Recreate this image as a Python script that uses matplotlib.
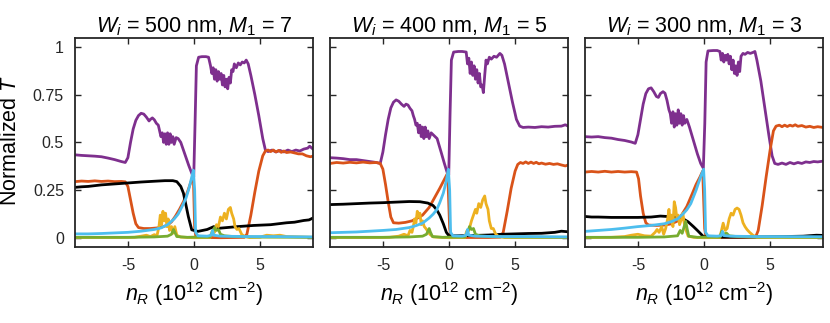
import numpy as np
import matplotlib
matplotlib.use("Agg")
import matplotlib.pyplot as plt

plt.rcParams['font.family'] = ['Liberation Sans', 'DejaVu Sans']
plt.rcParams['mathtext.fontset'] = 'custom'
plt.rcParams['mathtext.rm'] = 'Liberation Sans'
plt.rcParams['mathtext.it'] = 'Liberation Sans:italic'
plt.rcParams['mathtext.bf'] = 'Liberation Sans:bold'
plt.rcParams['axes.unicode_minus'] = False

# panel settings: (W_i in nm, M_1)
widths = [500, 400, 300]
modes = [7, 5, 3]

# ---- W_i = 500 nm ----
purple_500 = [(-9.0, 0.435), (-8.5, 0.432), (-8.0, 0.43), (-7.5, 0.428), (-7.0, 0.425), (-6.5, 0.418),
              (-6.0, 0.41), (-5.5, 0.40), (-5.2, 0.395), (-5.0, 0.42), (-4.8, 0.50), (-4.6, 0.57),
              (-4.4, 0.615), (-4.2, 0.64), (-4.0, 0.652), (-3.8, 0.648), (-3.6, 0.632), (-3.4, 0.612),
              (-3.3, 0.62), (-3.15, 0.628), (-3.0, 0.618), (-2.85, 0.60), (-2.7, 0.59), (-2.6, 0.56),
              (-2.5, 0.53), (-2.4, 0.55), (-2.3, 0.50), (-2.2, 0.545), (-2.1, 0.49), (-2.0, 0.55),
              (-1.9, 0.49), (-1.8, 0.545), (-1.7, 0.50), (-1.6, 0.53), (-1.5, 0.49), (-1.35, 0.525),
              (-1.2, 0.52), (-1.0, 0.50), (-0.7, 0.44), (-0.4, 0.38), (-0.15, 0.335), (-0.02, 0.32),
              (0.08, 0.6), (0.18, 0.9), (0.35, 0.945), (0.6, 0.948), (0.9, 0.948), (1.1, 0.945),
              (1.25, 0.90), (1.35, 0.86), (1.45, 0.89), (1.55, 0.83), (1.65, 0.88), (1.75, 0.82),
              (1.85, 0.87), (1.95, 0.83), (2.05, 0.86), (2.15, 0.80), (2.25, 0.85), (2.35, 0.79),
              (2.45, 0.83), (2.55, 0.78), (2.65, 0.84), (2.75, 0.81), (2.85, 0.88), (2.95, 0.87),
              (3.05, 0.91), (3.2, 0.89), (3.35, 0.915), (3.5, 0.905), (3.65, 0.92), (3.8, 0.915),
              (3.95, 0.93), (4.1, 0.91), (4.3, 0.85), (4.6, 0.75), (4.9, 0.64), (5.2, 0.52),
              (5.4, 0.46), (5.6, 0.452), (5.9, 0.46), (6.2, 0.45), (6.5, 0.458), (6.8, 0.45),
              (7.1, 0.46), (7.4, 0.452), (7.7, 0.46), (8.0, 0.455), (8.3, 0.465), (8.6, 0.47),
              (8.75, 0.48), (9.0, 0.465)]
orange_500 = [(-9.0, 0.295), (-8.5, 0.298), (-8.0, 0.296), (-7.5, 0.299), (-7.0, 0.296), (-6.5, 0.298),
              (-6.0, 0.295), (-5.5, 0.296), (-5.2, 0.294), (-5.0, 0.27), (-4.8, 0.2), (-4.6, 0.13),
              (-4.4, 0.075), (-4.2, 0.055), (-3.8, 0.05), (-3.3, 0.05), (-2.8, 0.053), (-2.4, 0.058),
              (-2.0, 0.068), (-1.7, 0.085), (-1.4, 0.115), (-1.1, 0.15), (-0.8, 0.19), (-0.5, 0.24),
              (-0.25, 0.29), (-0.05, 0.33), (0.05, 0.05), (0.15, 0.003), (1.0, 0.003), (2.0, 0.002),
              (3.0, 0.003), (3.8, 0.004), (4.0, 0.02), (4.3, 0.12), (4.6, 0.24), (4.9, 0.35),
              (5.2, 0.43), (5.4, 0.455), (5.6, 0.46), (5.8, 0.452), (6.0, 0.46), (6.2, 0.45),
              (6.4, 0.458), (6.6, 0.448), (6.8, 0.455), (7.0, 0.447), (7.3, 0.45), (7.6, 0.445),
              (7.9, 0.44), (8.2, 0.44), (8.5, 0.43), (8.8, 0.425), (9.0, 0.428)]
black_500 = [(-9.0, 0.265), (-8.5, 0.268), (-8.0, 0.27), (-7.0, 0.278), (-6.0, 0.283), (-5.0, 0.288),
             (-4.0, 0.293), (-3.0, 0.297), (-2.2, 0.30), (-1.6, 0.30), (-1.3, 0.295), (-1.0, 0.27),
             (-0.8, 0.235), (-0.6, 0.17), (-0.43, 0.113), (-0.17, 0.043), (0.3, 0.035), (1.0, 0.045),
             (1.5, 0.06), (1.7, 0.05), (2.0, 0.052), (3.3, 0.06), (4.5, 0.066), (5.8, 0.07),
             (7.0, 0.08), (7.6, 0.083), (8.3, 0.092), (8.7, 0.095), (9.0, 0.105)]
yellow_500 = [(-9.0, 0.003), (-6.0, 0.003), (-4.5, 0.004), (-4.0, 0.01), (-3.6, 0.015), (-3.3, 0.008),
              (-3.0, 0.018), (-2.8, 0.012), (-2.65, 0.06), (-2.55, 0.12), (-2.45, 0.07), (-2.35, 0.14),
              (-2.25, 0.09), (-2.15, 0.13), (-2.05, 0.06), (-1.95, 0.1), (-1.85, 0.04), (-1.7, 0.06),
              (-1.6, 0.025), (-1.45, 0.06), (-1.3, 0.015), (-1.0, 0.005), (0.0, 0.002), (1.2, 0.003),
              (1.4, 0.04), (1.55, 0.03), (1.7, 0.07), (1.85, 0.06), (2.0, 0.11), (2.15, 0.09),
              (2.3, 0.13), (2.45, 0.1), (2.6, 0.15), (2.75, 0.16), (2.85, 0.13), (3.0, 0.1),
              (3.1, 0.06), (3.25, 0.045), (3.4, 0.05), (3.6, 0.02), (3.8, 0.01), (4.2, 0.003),
              (5.0, 0.005), (5.5, 0.015), (6.0, 0.012), (6.5, 0.015), (7.0, 0.008), (8.0, 0.006),
              (9.0, 0.004)]
green_500 = [(-9.0, 0.004), (-5.0, 0.004), (-3.0, 0.006), (-2.0, 0.01), (-1.7, 0.02), (-1.55, 0.045),
             (-1.45, 0.03), (-1.3, 0.008), (-0.5, 0.004), (0.0, 0.005), (1.2, 0.005), (1.4, 0.03),
             (1.55, 0.055), (1.7, 0.04), (1.85, 0.045), (2.0, 0.02), (2.3, 0.012), (3.0, 0.008),
             (5.0, 0.005), (9.0, 0.004)]
blue_500 = [(-9.0, 0.022), (-8.0, 0.022), (-7.0, 0.024), (-6.0, 0.027), (-5.0, 0.03), (-4.0, 0.036),
            (-3.0, 0.045), (-2.5, 0.053), (-2.0, 0.07), (-1.5, 0.1), (-1.2, 0.125), (-0.9, 0.165),
            (-0.6, 0.21), (-0.4, 0.255), (-0.2, 0.31), (-0.05, 0.355), (0.05, 0.25), (0.12, 0.03),
            (0.3, 0.012), (1.0, 0.01), (1.3, 0.015), (1.4, 0.04), (1.5, 0.015), (2.0, 0.01),
            (4.0, 0.008), (6.0, 0.008), (9.0, 0.006)]

# ---- W_i = 400 nm ----
purple_400 = [(-9.0, 0.42), (-8.5, 0.418), (-8.0, 0.415), (-7.5, 0.41), (-7.0, 0.41), (-6.5, 0.405),
              (-6.0, 0.40), (-5.5, 0.395), (-5.2, 0.39), (-5.0, 0.45), (-4.8, 0.54), (-4.6, 0.62),
              (-4.4, 0.68), (-4.2, 0.71), (-4.0, 0.722), (-3.8, 0.715), (-3.6, 0.70), (-3.4, 0.688),
              (-3.25, 0.70), (-3.1, 0.695), (-2.95, 0.678), (-2.8, 0.665), (-2.7, 0.64), (-2.6, 0.62),
              (-2.5, 0.59), (-2.4, 0.60), (-2.3, 0.55), (-2.2, 0.59), (-2.1, 0.53), (-2.0, 0.58),
              (-1.9, 0.52), (-1.8, 0.58), (-1.7, 0.53), (-1.6, 0.56), (-1.5, 0.52), (-1.35, 0.55),
              (-1.2, 0.54), (-0.9, 0.52), (-0.6, 0.45), (-0.35, 0.39), (-0.15, 0.345), (-0.02, 0.33),
              (0.08, 0.65), (0.18, 0.93), (0.35, 0.972), (0.7, 0.975), (1.0, 0.975), (1.3, 0.972),
              (1.4, 0.91), (1.5, 0.94), (1.6, 0.86), (1.7, 0.92), (1.8, 0.85), (1.9, 0.90),
              (2.0, 0.83), (2.1, 0.88), (2.2, 0.81), (2.3, 0.86), (2.4, 0.79), (2.5, 0.80),
              (2.6, 0.76), (2.7, 0.85), (2.8, 0.93), (2.9, 0.91), (3.05, 0.945), (3.2, 0.935),
              (3.4, 0.95), (3.6, 0.945), (3.85, 0.965), (4.0, 0.955), (4.2, 0.91), (4.5, 0.81),
              (4.8, 0.71), (5.1, 0.62), (5.35, 0.585), (5.6, 0.578), (6.0, 0.58), (6.5, 0.578),
              (7.0, 0.582), (7.5, 0.58), (8.0, 0.584), (8.5, 0.585), (8.8, 0.592), (9.0, 0.585)]
orange_400 = [(-9.0, 0.39), (-8.5, 0.395), (-8.0, 0.392), (-7.5, 0.396), (-7.0, 0.393), (-6.5, 0.397),
              (-6.0, 0.393), (-5.5, 0.395), (-5.2, 0.39), (-5.0, 0.36), (-4.8, 0.28), (-4.6, 0.19),
              (-4.4, 0.11), (-4.2, 0.08), (-3.8, 0.078), (-3.3, 0.082), (-2.8, 0.09), (-2.4, 0.104),
              (-2.0, 0.12), (-1.5, 0.16), (-1.1, 0.21), (-0.7, 0.26), (-0.4, 0.30), (-0.1, 0.34),
              (0.05, 0.05), (0.15, 0.003), (1.0, 0.003), (2.0, 0.003), (3.0, 0.003), (3.9, 0.005),
              (4.1, 0.03), (4.4, 0.14), (4.7, 0.26), (5.0, 0.35), (5.2, 0.385), (5.4, 0.395),
              (5.6, 0.39), (5.8, 0.398), (6.0, 0.39), (6.2, 0.397), (6.4, 0.39), (6.6, 0.396),
              (6.8, 0.388), (7.0, 0.392), (7.3, 0.386), (7.6, 0.39), (7.9, 0.385), (8.2, 0.388),
              (8.5, 0.382), (8.8, 0.377), (9.0, 0.382)]
black_400 = [(-9.0, 0.175), (-8.0, 0.177), (-7.0, 0.18), (-6.0, 0.183), (-5.0, 0.185), (-4.0, 0.188),
             (-3.0, 0.191), (-2.2, 0.19), (-1.6, 0.183), (-1.2, 0.17), (-0.93, 0.148), (-0.7, 0.12),
             (-0.43, 0.075), (-0.2, 0.03), (0.0, 0.012), (0.5, 0.012), (2.0, 0.014), (3.0, 0.016),
             (4.0, 0.02), (5.0, 0.022), (6.0, 0.024), (7.0, 0.025), (8.0, 0.03), (8.5, 0.036),
             (9.0, 0.033)]
yellow_400 = [(-9.0, 0.003), (-6.0, 0.003), (-4.5, 0.004), (-3.8, 0.01), (-3.4, 0.02), (-3.1, 0.012),
              (-2.95, 0.04), (-2.8, 0.03), (-2.7, 0.06), (-2.6, 0.1), (-2.5, 0.08), (-2.4, 0.14),
              (-2.3, 0.11), (-2.2, 0.13), (-2.1, 0.07), (-2.0, 0.09), (-1.87, 0.06), (-1.75, 0.05),
              (-1.6, 0.035), (-1.45, 0.02), (-1.2, 0.006), (0.0, 0.002), (1.2, 0.003), (1.33, 0.035),
              (1.5, 0.04), (1.7, 0.09), (1.85, 0.12), (2.0, 0.15), (2.1, 0.13), (2.25, 0.18),
              (2.4, 0.16), (2.55, 0.20), (2.7, 0.22), (2.8, 0.18), (2.95, 0.15), (3.05, 0.09),
              (3.2, 0.05), (3.35, 0.05), (3.5, 0.025), (3.7, 0.01), (4.2, 0.003), (6.0, 0.004),
              (9.0, 0.003)]
green_400 = [(-9.0, 0.004), (-5.0, 0.004), (-3.0, 0.006), (-2.0, 0.01), (-1.7, 0.02), (-1.5, 0.05),
             (-1.4, 0.03), (-1.25, 0.008), (-0.5, 0.004), (0.0, 0.005), (1.2, 0.005), (1.4, 0.03),
             (1.55, 0.06), (1.7, 0.045), (1.85, 0.05), (2.0, 0.02), (2.3, 0.012), (3.0, 0.008),
             (5.0, 0.005), (9.0, 0.004)]
blue_400 = [(-9.0, 0.028), (-8.0, 0.03), (-7.0, 0.032), (-6.0, 0.036), (-5.0, 0.04), (-4.0, 0.045),
            (-3.0, 0.055), (-2.5, 0.065), (-2.0, 0.078), (-1.5, 0.105), (-1.2, 0.125), (-0.93, 0.148),
            (-0.7, 0.185), (-0.43, 0.235), (-0.2, 0.30), (-0.05, 0.36), (0.05, 0.25), (0.12, 0.03),
            (0.3, 0.012), (1.0, 0.01), (1.3, 0.015), (1.4, 0.045), (1.5, 0.015), (2.0, 0.01),
            (4.0, 0.008), (6.0, 0.008), (9.0, 0.006)]

# ---- W_i = 300 nm ----
purple_300 = [(-9.0, 0.53), (-8.5, 0.528), (-8.0, 0.53), (-7.5, 0.525), (-7.0, 0.522), (-6.5, 0.515),
              (-6.0, 0.51), (-5.5, 0.502), (-5.2, 0.495), (-5.0, 0.54), (-4.8, 0.62), (-4.6, 0.70),
              (-4.4, 0.755), (-4.2, 0.78), (-4.0, 0.785), (-3.8, 0.765), (-3.6, 0.74), (-3.45, 0.735),
              (-3.3, 0.755), (-3.1, 0.765), (-2.95, 0.757), (-2.8, 0.72), (-2.65, 0.67), (-2.55, 0.65),
              (-2.45, 0.60), (-2.35, 0.66), (-2.25, 0.58), (-2.15, 0.65), (-2.05, 0.59), (-1.95, 0.67),
              (-1.85, 0.60), (-1.75, 0.65), (-1.65, 0.59), (-1.55, 0.64), (-1.45, 0.60), (-1.3, 0.62),
              (-1.1, 0.58), (-0.8, 0.51), (-0.5, 0.44), (-0.25, 0.39), (-0.05, 0.365), (0.06, 0.6),
              (0.16, 0.92), (0.3, 0.978), (0.7, 0.98), (1.0, 0.98), (1.2, 0.975), (1.3, 0.93),
              (1.4, 0.965), (1.5, 0.92), (1.6, 0.955), (1.7, 0.93), (1.8, 0.96), (1.9, 0.91),
              (2.0, 0.95), (2.1, 0.88), (2.2, 0.93), (2.3, 0.86), (2.4, 0.90), (2.5, 0.85),
              (2.6, 0.92), (2.7, 0.87), (2.8, 0.95), (2.95, 0.965), (3.1, 0.96), (3.3, 0.97),
              (3.5, 0.965), (3.7, 0.97), (3.85, 0.975), (4.0, 0.93), (4.3, 0.82), (4.6, 0.68),
              (4.9, 0.54), (5.15, 0.43), (5.35, 0.39), (5.6, 0.385), (5.9, 0.392), (6.2, 0.385),
              (6.5, 0.395), (6.8, 0.388), (7.1, 0.395), (7.4, 0.39), (7.7, 0.398), (8.0, 0.395),
              (8.3, 0.40), (8.6, 0.398), (9.0, 0.402)]
orange_300 = [(-9.0, 0.345), (-8.5, 0.348), (-8.0, 0.345), (-7.5, 0.349), (-7.0, 0.345), (-6.5, 0.348),
              (-6.0, 0.345), (-5.5, 0.347), (-5.1, 0.345), (-4.95, 0.31), (-4.8, 0.22), (-4.6, 0.13),
              (-4.4, 0.08), (-4.2, 0.068), (-3.6, 0.066), (-3.0, 0.068), (-2.5, 0.074), (-2.06, 0.087),
              (-1.7, 0.12), (-1.3, 0.165), (-0.9, 0.23), (-0.6, 0.28), (-0.3, 0.32), (-0.1, 0.35),
              (0.05, 0.05), (0.15, 0.003), (1.0, 0.003), (2.0, 0.003), (3.0, 0.003), (3.9, 0.005),
              (4.1, 0.04), (4.4, 0.17), (4.7, 0.32), (5.0, 0.46), (5.25, 0.56), (5.45, 0.585),
              (5.7, 0.59), (5.9, 0.582), (6.1, 0.59), (6.3, 0.583), (6.5, 0.59), (6.7, 0.585),
              (6.9, 0.592), (7.1, 0.584), (7.4, 0.588), (7.7, 0.58), (8.0, 0.584), (8.3, 0.578),
              (8.6, 0.582), (9.0, 0.578)]
black_300 = [(-9.0, 0.113), (-8.5, 0.11), (-8.0, 0.11), (-7.0, 0.108), (-6.0, 0.108), (-5.0, 0.108),
             (-4.0, 0.11), (-3.3, 0.115), (-2.8, 0.113), (-2.2, 0.11), (-1.56, 0.10), (-1.2, 0.085),
             (-0.8, 0.06), (-0.5, 0.04), (-0.3, 0.026), (-0.05, 0.008), (0.5, 0.005), (2.0, 0.005),
             (4.0, 0.006), (6.0, 0.008), (7.5, 0.01), (8.5, 0.015), (9.0, 0.014)]
yellow_300 = [(-9.0, 0.003), (-7.0, 0.004), (-6.0, 0.008), (-5.5, 0.015), (-5.0, 0.02), (-4.5, 0.012),
              (-4.0, 0.01), (-3.7, 0.03), (-3.55, 0.045), (-3.4, 0.03), (-3.2, 0.06), (-3.05, 0.02),
              (-2.9, 0.05), (-2.75, 0.10), (-2.65, 0.15), (-2.55, 0.09), (-2.45, 0.12), (-2.35, 0.06),
              (-2.25, 0.19), (-2.15, 0.16), (-2.05, 0.10), (-1.95, 0.12), (-1.85, 0.07), (-1.7, 0.10),
              (-1.6, 0.13), (-1.5, 0.08), (-1.35, 0.04), (-1.2, 0.01), (-0.8, 0.004), (0.0, 0.002),
              (1.2, 0.003), (1.45, 0.078), (1.6, 0.04), (1.75, 0.05), (1.9, 0.10), (2.05, 0.13),
              (2.2, 0.12), (2.35, 0.15), (2.5, 0.157), (2.65, 0.15), (2.8, 0.12), (2.95, 0.08),
              (3.1, 0.06), (3.25, 0.045), (3.45, 0.03), (3.7, 0.015), (4.0, 0.004), (6.0, 0.004),
              (9.0, 0.003)]
green_300 = [(-9.0, 0.004), (-5.0, 0.004), (-3.0, 0.006), (-2.0, 0.012), (-1.8, 0.04), (-1.65, 0.025),
             (-1.5, 0.06), (-1.38, 0.087), (-1.28, 0.05), (-1.15, 0.01), (-0.5, 0.004), (0.0, 0.005),
             (1.2, 0.005), (1.35, 0.035), (1.5, 0.02), (1.7, 0.026), (1.9, 0.012), (2.5, 0.008),
             (4.0, 0.005), (9.0, 0.004)]
blue_300 = [(-9.0, 0.035), (-8.0, 0.04), (-7.0, 0.045), (-6.0, 0.052), (-5.0, 0.06), (-4.0, 0.066),
            (-3.0, 0.075), (-2.5, 0.085), (-2.0, 0.10), (-1.6, 0.125), (-1.3, 0.148), (-1.0, 0.18),
            (-0.8, 0.215), (-0.6, 0.25), (-0.43, 0.285), (-0.2, 0.33), (-0.03, 0.36), (0.05, 0.25),
            (0.12, 0.03), (0.3, 0.012), (1.0, 0.01), (1.3, 0.013), (1.4, 0.035), (1.5, 0.013),
            (2.0, 0.01), (4.0, 0.008), (6.0, 0.008), (9.0, 0.007)]

panel_data = [
    [purple_500, orange_500, black_500, yellow_500, green_500, blue_500],
    [purple_400, orange_400, black_400, yellow_400, green_400, blue_400],
    [purple_300, orange_300, black_300, yellow_300, green_300, blue_300],
]

# MATLAB default-ish colours, in drawing order
line_colors = [(0.494, 0.184, 0.556), (0.850, 0.325, 0.098), 'black',
               (0.929, 0.694, 0.125), (0.466, 0.674, 0.188), (0.301, 0.745, 0.933)]

yticks = [0, 0.25, 0.5, 0.75, 1]
ytick_labels = ['0', '0.25', '0.5', '0.75', '1']
xticks = [-5, 0, 5]
xtick_labels = ['-5', '0', '5']

fig = plt.figure(figsize=(8.3, 3.23), dpi=100)
W, H = 830.0, 323.0
ax_lefts = [75, 330, 585]

for i, series in enumerate(panel_data):
    ax = fig.add_axes([ax_lefts[i] / W, 76.3 / H, 238 / W, 209 / H])
    for pts, c in zip(series, line_colors):
        arr = np.array(pts)
        ax.plot(arr[:, 0], arr[:, 1], color=c, lw=2.0, solid_joinstyle='round')

    ax.set_xlim(-9, 9)
    ax.set_ylim(-0.045, 1.047)
    ax.set_xticks(xticks)
    ax.set_xticklabels(xtick_labels)
    ax.set_yticks(yticks)
    if i == 0:
        ax.set_yticklabels(ytick_labels)
        ax.set_ylabel('Normalized $T$', fontsize=15.5)
        ax.yaxis.set_label_coords(-0.225, 0.51)
    else:
        ax.set_yticklabels([])
    ax.tick_params(direction='in', length=4.5, width=1.0, top=True, right=True,
                   labelsize=11.5, pad=8, colors='#262626', labelcolor='#262626')
    ax.tick_params(axis='x', pad=8)
    for sp in ax.spines.values():
        sp.set_linewidth(1.3)
        sp.set_color('#262626')

    ax.set_xlabel(r'$n_R$ (10$^{12}$ cm$^{-2}$)', fontsize=15.5, labelpad=5)
    ax.set_title(r'$W_i$ = %d nm, $M_1$ = %d' % (widths[i], modes[i]), fontsize=15.5, pad=4)

fig.savefig('out.png', dpi=100)
